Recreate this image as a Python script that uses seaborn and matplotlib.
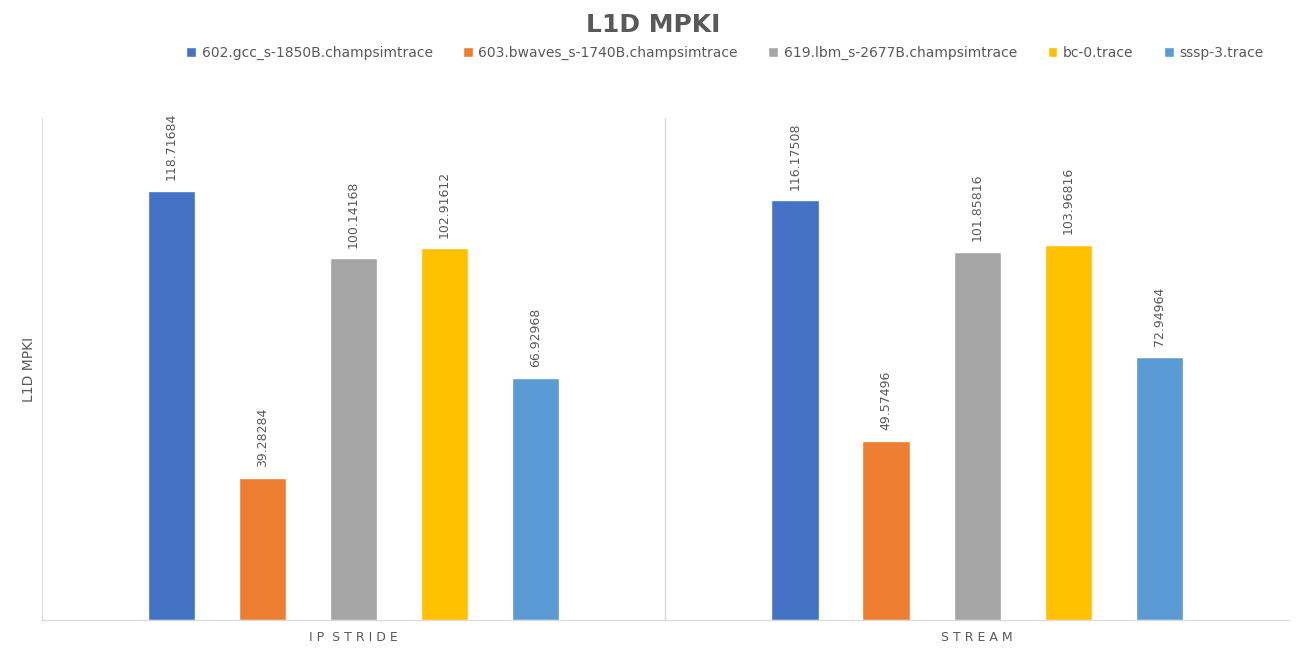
import numpy as np
import pandas as pd
import matplotlib
matplotlib.use('Agg')
import matplotlib.pyplot as plt
import seaborn as sns

prefetchers = ['IP STRIDE', 'STREAM']
traces = ['602.gcc_s-1850B.champsimtrace', '603.bwaves_s-1740B.champsimtrace',
          '619.lbm_s-2677B.champsimtrace', 'bc-0.trace', 'sssp-3.trace']
ip_stride = [118.71684, 39.28284, 100.14168, 102.91612, 66.92968]
stream = [116.17508, 49.57496, 101.85816, 103.96816, 72.94964]
colors = ['#4472C4', '#ED7D31', '#A5A5A5', '#FFC000', '#5B9BD5']

rows = []
for p, vals in zip(prefetchers, [ip_stride, stream]):
    for t, v in zip(traces, vals):
        rows.append({'prefetcher': p, 'trace': t, 'mpki': v})
df = pd.DataFrame(rows)

sns.set_style('white')
fig = plt.figure(figsize=(13.06, 6.6), dpi=100)
ax = fig.add_axes([0.032, 0.0606, 0.955, 0.7605])
sns.barplot(data=df, x='prefetcher', y='mpki', hue='trace', hue_order=traces,
            palette=colors, saturation=1, width=0.73, gap=0.48, ax=ax, legend=True)

for cont in ax.containers:
    for bar in cont:
        h = bar.get_height()
        ax.text(bar.get_x() + bar.get_width() / 2, h + 3, f'{h:.5f}'.rstrip('0'),
                rotation=90, ha='center', va='bottom', fontsize=9, color='#595959')

ax.set_ylim(0, 139)
ax.set_xlim(-0.5, 1.5)
ax.set_yticks([])
ax.set_xlabel('')
ax.set_ylabel('L1D MPKI', fontsize=10, color='#595959')
ax.set_xticks([0, 1])
ax.set_xticklabels(['I P  S T R I D E', 'S T R E A M'], fontsize=9, color='#595959')
ax.tick_params(axis='x', length=0, pad=8)
ax.axvline(0.5, color='#D9D9D9', lw=1)
for s in ['top', 'right']:
    ax.spines[s].set_visible(False)
for s in ['left', 'bottom']:
    ax.spines[s].set_color('#D9D9D9')

handles, labels = ax.get_legend_handles_labels()
ax.legend_.remove()
fig.legend(handles, labels, loc='center', bbox_to_anchor=(0.555, 0.92), ncol=5,
           frameon=False, fontsize=10, handlelength=0.7, handleheight=0.7,
           columnspacing=2.2, handletextpad=0.4, labelcolor='#595959')
fig.text(0.5, 0.962, 'L1D MPKI', ha='center', va='center', fontsize=18,
         fontweight='bold', color='#595959')

fig.savefig('out.png', dpi=100)
